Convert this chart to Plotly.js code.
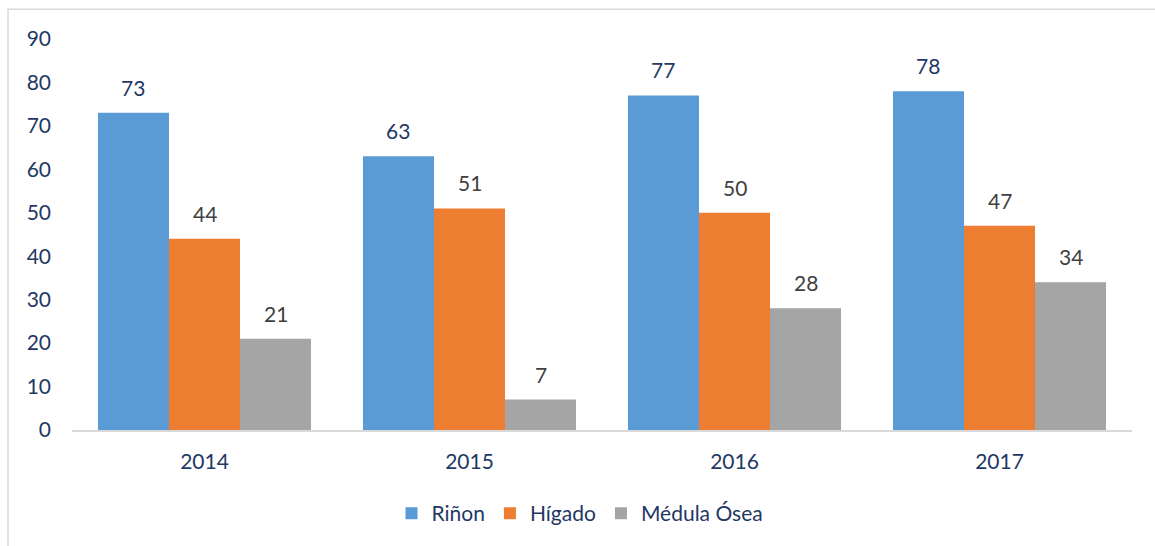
<!DOCTYPE html>
<html><head><meta charset="utf-8">
<script src="https://cdn.plot.ly/plotly-3.0.1.min.js"></script>
<style>html,body{margin:0;padding:0;background:#fff}#chart{width:1155px;height:546px}</style>
</head><body><div id="chart"></div>
<script>
const years = ['2014', '2015', '2016', '2017'];
const rinon = [73, 63, 77, 78];
const higado = [44, 51, 50, 47];
const medula = [21, 7, 28, 34];
const seriesNames = ['Riñon', 'Hígado', 'Médula Ósea'];
const colors = ['#5B9BD5', '#ED7D31', '#A5A5A5'];
const labelColors = ['#1F3864', '#404040', '#404040'];
const yTicks = [0, 10, 20, 30, 40, 50, 60, 70, 80, 90];

const W = 1155, H = 546;
const margin = {l: 72, r: 23, t: 39, b: 114};
const plotW = W - margin.l - margin.r;
const plotH = H - margin.t - margin.b;
const bargap = 0.196;
const barPx = plotW / years.length * (1 - bargap) / 3;

const FONT = 'Lato, "Open Sans", sans-serif';
const FS = 21;
const allSeries = [rinon, higado, medula];
const traces = allSeries.map((vals, i) => ({
  type: 'bar', x: years, y: vals, name: seriesNames[i],
  marker: {color: colors[i]}, hoverinfo: 'skip'
}));

const annotations = [];
allSeries.forEach((vals, i) => {
  vals.forEach((v, j) => {
    annotations.push({
      x: j, y: v, xref: 'x', yref: 'y', text: String(v),
      showarrow: false, xanchor: 'center', yanchor: 'bottom',
      xshift: (i - 1) * barPx, yshift: 11,
      font: {family: FONT, size: FS, color: labelColors[i]}
    });
  });
});

const px2x = p => (p - margin.l) / plotW;
const px2y = p => (H - margin.b - p) / plotH;

const layout = {
  width: W, height: H,
  margin: margin,
  paper_bgcolor: '#fff', plot_bgcolor: '#fff',
  barmode: 'group', bargap: bargap, bargroupgap: 0,
  font: {family: FONT, size: FS, color: '#1F3864'},
  xaxis: {
    type: 'category', range: [-0.5, years.length - 0.5], autorange: false,
    showgrid: false, zeroline: false,
    showline: true, linecolor: '#D9D9D9', linewidth: 1.5,
    ticks: '', ticklabelstandoff: 12,
    tickfont: {family: FONT, size: FS, color: '#1F3864'}
  },
  yaxis: {
    range: [0, 90], autorange: false, tickvals: yTicks, showgrid: false, zeroline: false,
    showline: false, ticks: '', ticklabelstandoff: 20,
    tickfont: {family: FONT, size: FS, color: '#1F3864'}
  },
  showlegend: true,
  legend: {
    orientation: 'h', x: px2x(580), xanchor: 'center', y: px2y(516), yanchor: 'middle',
    xref: 'paper', yref: 'paper',
    font: {family: FONT, size: FS, color: '#1F3864'},
    itemsizing: 'constant', traceorder: 'normal'
  },
  annotations: annotations,
  shapes: [{
    type: 'rect', xref: 'paper', yref: 'paper',
    x0: px2x(8), x1: px2x(W + 20), y0: px2y(H + 20), y1: px2y(9),
    line: {color: '#D9D9D9', width: 1.5}, fillcolor: 'rgba(0,0,0,0)', layer: 'below'
  }]
};

Plotly.newPlot('chart', traces, layout, {displayModeBar: false, staticPlot: true});
</script></body></html>
